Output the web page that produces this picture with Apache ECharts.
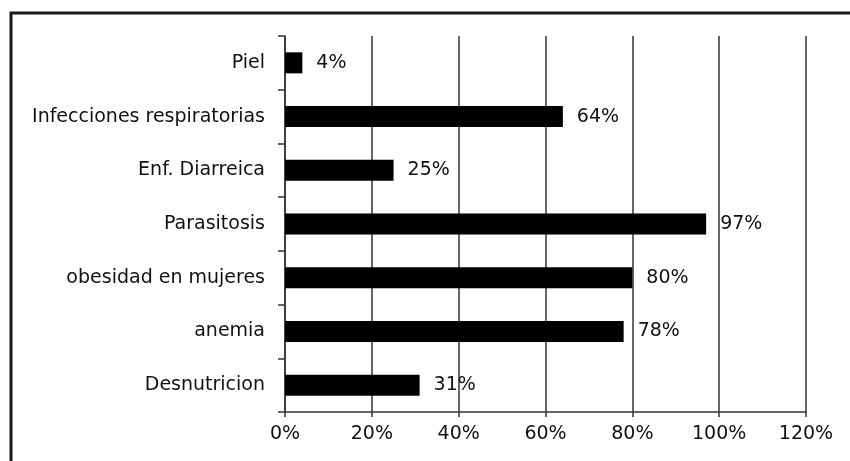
<!DOCTYPE html>
<html>
<head>
<meta charset="utf-8">
<script src="https://cdn.jsdelivr.net/npm/echarts@6/dist/echarts.min.js"></script>
<style>
  html, body { margin: 0; padding: 0; background: #fff; }
  #chart { width: 850px; height: 461px; }
</style>
</head>
<body>
<div id="chart"></div>
<script>
// categories top to bottom
const categories = ['Piel', 'Infecciones respiratorias', 'Enf. Diarreica', 'Parasitosis', 'obesidad en mujeres', 'anemia', 'Desnutricion']
const values = [4, 64, 25, 97, 80, 78, 31]

const font = '"DejaVu Sans", sans-serif'
const size = 19

const chart = echarts.init(document.getElementById('chart'))
chart.setOption({
  animation: false,
  backgroundColor: '#fff',
  grid: { left: 285, right: 44, top: 36, bottom: 49 },
  // marco alrededor del grafico
  graphic: [{
    type: 'rect',
    shape: { x: 11, y: 13, width: 860, height: 470 },
    style: { fill: 'none', stroke: '#1a1a1a', lineWidth: 3 },
    silent: true
  }],
  xAxis: {
    type: 'value',
    min: 0,
    max: 120,
    interval: 20,
    axisLine: { show: true, lineStyle: { color: '#333', width: 1.5 } },
    axisTick: { show: true, length: 5, lineStyle: { color: '#333', width: 1.5 } },
    axisLabel: { formatter: '{value}%', color: '#111', fontSize: size, fontFamily: font, margin: 13 },
    splitLine: { show: true, lineStyle: { color: '#333', width: 1.5 } }
  },
  yAxis: {
    type: 'category',
    inverse: true,
    data: categories,
    axisLine: { show: true, lineStyle: { color: '#333', width: 1.5 } },
    axisTick: { show: true, length: 7, lineStyle: { color: '#333', width: 1.5 } },
    axisLabel: { color: '#111', fontSize: size, fontFamily: font, margin: 20 },
    splitLine: { show: false }
  },
  series: [{
    type: 'bar',
    data: values,
    barWidth: 21,
    itemStyle: { color: '#000' },
    label: {
      show: true,
      position: 'right',
      distance: 14,
      formatter: '{c}%',
      color: '#111',
      fontSize: size,
      fontFamily: font
    }
  }]
})
</script>
</body>
</html>
